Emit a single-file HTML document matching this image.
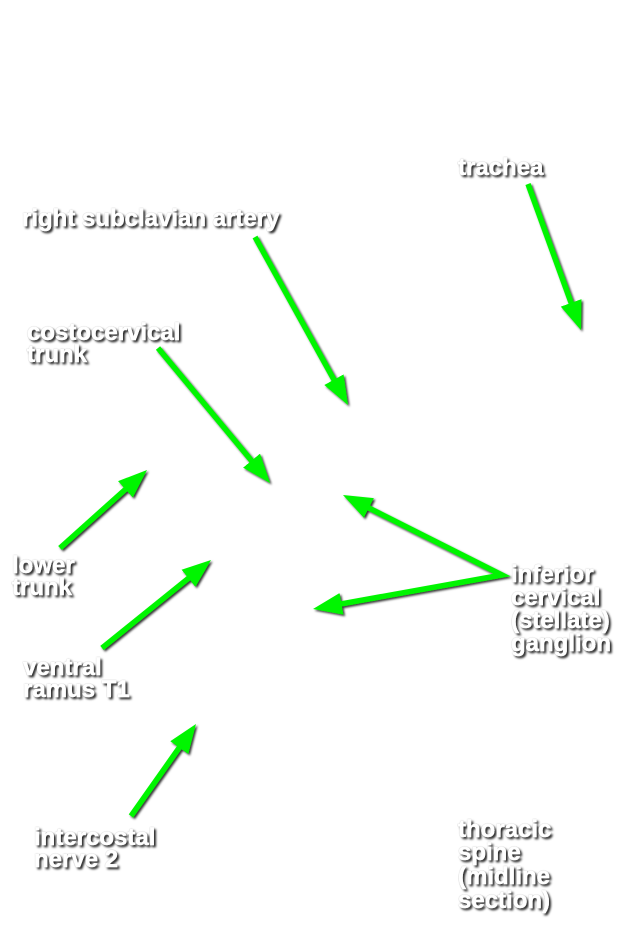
<!DOCTYPE html>
<html>
<head>
<meta charset="utf-8">
<style>
  html, body { margin: 0; padding: 0; background: #ffffff; }
  body { width: 631px; height: 950px; overflow: hidden; }
  svg { display: block; }
  text { font-family: "Liberation Sans", Arial, sans-serif; font-weight: bold; font-size: 24px; fill: #ffffff; stroke: #ffffff; stroke-width: 0.4px; }
</style>
</head>
<body>
<svg width="631" height="950" viewBox="0 0 631 950" xmlns="http://www.w3.org/2000/svg">
  <defs>
    <filter id="sh" x="-20%" y="-20%" width="140%" height="140%">
      <feDropShadow dx="1.6" dy="1.6" stdDeviation="1" flood-color="#000" flood-opacity="0.8"/>
    </filter>
    <filter id="tsh" x="-10%" y="-30%" width="120%" height="160%">
      <feGaussianBlur in="SourceAlpha" stdDeviation="1.1" result="b"/>
      <feOffset in="b" dx="2" dy="2" result="o"/>
      <feFlood flood-color="#000" flood-opacity="0.85"/>
      <feComposite in2="o" operator="in" result="s"/>
      <feGaussianBlur in="SourceAlpha" stdDeviation="0.6" result="b2"/>
      <feFlood flood-color="#000" flood-opacity="0.35"/>
      <feComposite in2="b2" operator="in" result="s2"/>
      <feMerge>
        <feMergeNode in="s"/>
        <feMergeNode in="s2"/>
        <feMergeNode in="SourceGraphic"/>
      </feMerge>
    </filter>
    <marker id="ah" markerUnits="userSpaceOnUse" markerWidth="32" markerHeight="26" refX="2" refY="13" orient="auto">
      <path d="M0,2 L29,13 L0,24 z" fill="#00f500"/>
    </marker>
    <marker id="ahs" markerUnits="userSpaceOnUse" markerWidth="32" markerHeight="26" refX="2" refY="13" orient="auto-start-reverse">
      <path d="M0,2 L29,13 L0,24 z" fill="#00f500"/>
    </marker>
  </defs>

  <g filter="url(#sh)" stroke="#00f500" stroke-width="5.5" fill="none">
    <line x1="528" y1="184" x2="571.8" y2="304.7" marker-end="url(#ah)"/>
    <line x1="255" y1="237" x2="334.9" y2="381.4" marker-end="url(#ah)"/>
    <line x1="158" y1="348" x2="252.8" y2="462.2" marker-end="url(#ah)"/>
    <line x1="60" y1="548" x2="126.9" y2="488.0" marker-end="url(#ah)"/>
    <line x1="102" y1="648" x2="190.0" y2="577.0" marker-end="url(#ah)"/>
    <line x1="131" y1="816" x2="180.4" y2="746.0" marker-end="url(#ah)"/>
    <path d="M367.1,507.1 L502,575 L339.6,604.2" stroke-linejoin="miter" stroke-miterlimit="10" marker-start="url(#ahs)" marker-end="url(#ah)"/>
  </g>

  <g filter="url(#tsh)">
    <text x="458" y="175">trachea</text>
    <text x="22" y="226">right subclavian artery</text>
    <text x="27" y="340">costocervical</text>
    <text x="27" y="362">trunk</text>
    <text x="12" y="573">lower</text>
    <text x="12" y="595">trunk</text>
    <text x="23" y="675">ventral</text>
    <text x="23" y="697">ramus T1</text>
    <text x="34" y="845">intercostal</text>
    <text x="34" y="867">nerve 2</text>
    <text x="511" y="582">inferior</text>
    <text x="511" y="605">cervical</text>
    <text x="511" y="628">(stellate)</text>
    <text x="511" y="651">ganglion</text>
    <text x="458" y="837">thoracic</text>
    <text x="458" y="860">spine</text>
    <text x="458" y="884">(midline</text>
    <text x="458" y="908">section)</text>
  </g>
</svg>
</body>
</html>
